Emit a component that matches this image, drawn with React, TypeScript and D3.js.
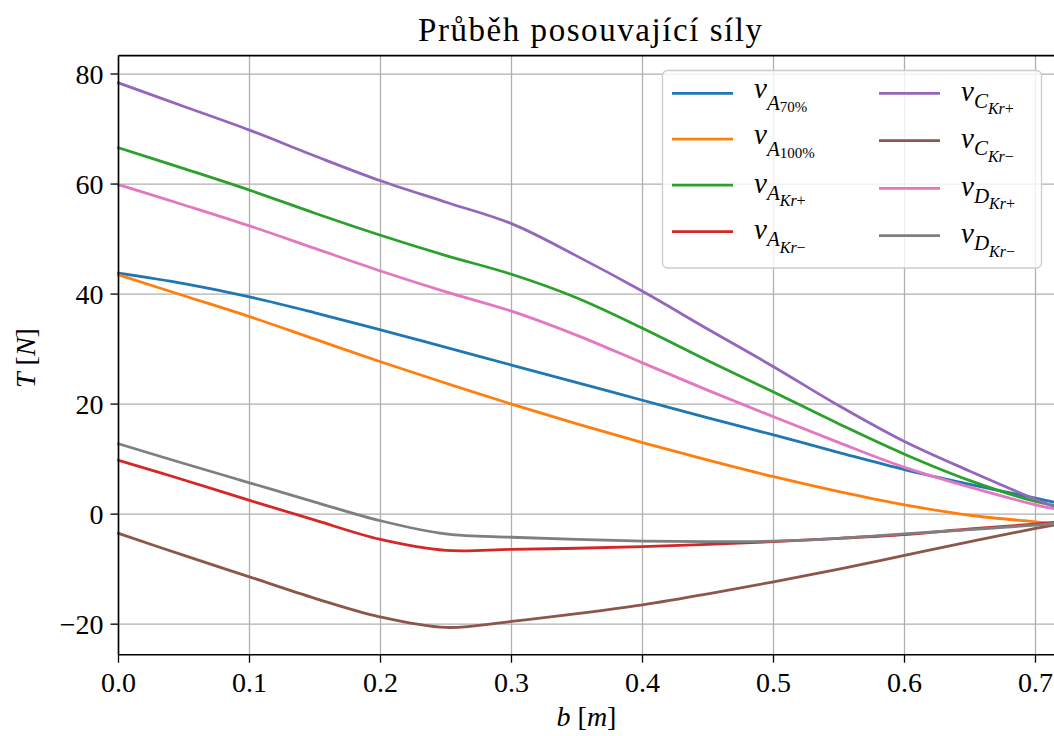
import React from "react";
import * as d3 from "d3";

const bValues = [0, 0.05, 0.1, 0.15, 0.2, 0.25, 0.3, 0.35, 0.4, 0.45, 0.5, 0.55, 0.6, 0.65, 0.7, 0.714];

const vA70 = [43.8, 41.9, 39.5, 36.6, 33.5, 30.3, 27.1, 23.9, 20.7, 17.5, 14.4, 11.2, 8.1, 5.4, 2.9, 2.2];
const vA100 = [43.5, 39.7, 35.9, 31.8, 27.7, 23.8, 20.0, 16.4, 13.0, 9.8, 6.8, 4.1, 1.7, -0.2, -1.4, -1.7];
const vAKrPlus = [66.6, 62.8, 58.9, 54.7, 50.7, 47.0, 43.6, 39.3, 33.8, 27.9, 22.2, 16.4, 10.9, 6.1, 2.3, 1.6];
const vAKrMinus = [9.8, 6.2, 2.5, -1.1, -4.6, -6.6, -6.4, -6.2, -5.9, -5.5, -5.0, -4.4, -3.7, -2.7, -1.8, -1.5];
const vCKrPlus = [78.4, 74.1, 69.8, 65.1, 60.6, 56.7, 52.8, 46.9, 40.5, 33.6, 26.8, 19.7, 13.2, 7.8, 2.7, 1.4];
const vCKrMinus = [-3.5, -7.5, -11.4, -15.3, -18.7, -20.6, -19.5, -18.1, -16.5, -14.5, -12.3, -10.0, -7.5, -5.0, -2.6, -2.0];
const vDKrPlus = [59.9, 56.2, 52.4, 48.3, 44.2, 40.4, 36.9, 32.5, 27.5, 22.5, 17.7, 13.0, 8.5, 4.9, 1.7, 1.0];
const vDKrMinus = [12.8, 9.2, 5.7, 2.2, -1.2, -3.6, -4.2, -4.6, -4.9, -5.0, -4.9, -4.4, -3.6, -2.8, -2.0, -1.7];

const xTicks = [0, 0.1, 0.2, 0.3, 0.4, 0.5, 0.6, 0.7];
const yTicks = [-20, 0, 20, 40, 60, 80];

const seriesLetters = ["A", "A", "A", "A", "C", "C", "D", "D"];
const seriesSubs = ["70%", "100%", "Kr+", "Kr−", "Kr+", "Kr−", "Kr+", "Kr−"];
const seriesColors = ["#1f77b4", "#ff7f0e", "#2ca02c", "#d62728", "#9467bd", "#8c564b", "#e377c2", "#7f7f7f"];
const seriesValues = [vA70, vA100, vAKrPlus, vAKrMinus, vCKrPlus, vCKrMinus, vDKrPlus, vDKrMinus];

const FONT = "'Liberation Serif', 'Times New Roman', serif";

function LegendLabel({ x, y, letter, sub }: { x: number; y: number; letter: string; sub: string }) {
  const isKr = sub.startsWith("Kr");
  if (isKr) {
    return (
      <text x={x} y={y + 7.5} fontFamily={FONT} fill="#000">
        <tspan fontStyle="italic" fontSize={29}>v</tspan>
        <tspan fontStyle="italic" fontSize={21} dy={7}>{letter}</tspan>
        <tspan fontStyle="italic" fontSize={16} dy={6.5}>Kr</tspan>
        <tspan fontSize={16}>{sub.slice(2)}</tspan>
      </text>
    );
  }
  return (
    <text x={x} y={y + 5} fontFamily={FONT} fill="#000">
      <tspan fontStyle="italic" fontSize={29}>v</tspan>
      <tspan fontStyle="italic" fontSize={21} dy={12}>{letter}</tspan>
      <tspan fontSize={15} dy={1.5}>{sub}</tspan>
    </text>
  );
}

export default function App() {
  const W = 1054;
  const H = 736;
  const left = 118.5;
  const right = 1054.5;
  const top = 55.6;
  const bottom = 654.7;

  const x = d3.scaleLinear().domain([0, 0.7145]).range([left, right]);
  const y = d3.scaleLinear().domain([-25.55, 83.35]).range([bottom, top]);

  const line = d3
    .line<number>()
    .x((_, i) => x(bValues[i]))
    .y((d) => y(d))
    .curve(d3.curveCatmullRom.alpha(0.5));

  const legendX = 662.5;
  const legendY = 70.5;
  const col1Y = [93.3, 139.2, 185.2, 231.7];
  const col2Y = [93.3, 140.7, 188.3, 235.7];

  return (
    <svg
      width={W}
      height={H}
      style={{ position: "absolute", left: 0, top: 0, background: "#fff" }}
      xmlns="http://www.w3.org/2000/svg"
    >
      <rect x={0} y={0} width={W} height={H} fill="#fff" />
      <g stroke="#b0b0b0" strokeWidth={1.3}>
        {xTicks.map((t) => (
          <line key={"gx" + t} x1={x(t)} x2={x(t)} y1={top} y2={bottom} />
        ))}
        {yTicks.map((t) => (
          <line key={"gy" + t} x1={left} x2={right} y1={y(t)} y2={y(t)} />
        ))}
      </g>
      <g fill="none" strokeWidth={2.8} strokeLinecap="square" strokeLinejoin="round">
        {seriesValues.map((vals, i) => (
          <path key={"s" + i} d={line(vals) || ""} stroke={seriesColors[i]} />
        ))}
      </g>
      <g stroke="#000" strokeWidth={1.6} fill="none">
        <line x1={left} x2={left} y1={top} y2={bottom} />
        <line x1={left} x2={right + 2} y1={bottom} y2={bottom} />
        <line x1={left} x2={right + 2} y1={top} y2={top} />
      </g>
      <g>
        {xTicks.map((t) => (
          <g key={"xt" + t}>
            <line x1={x(t)} x2={x(t)} y1={bottom} y2={bottom + 8} stroke="#000" strokeWidth={1.3} />
            <text x={x(t)} y={bottom + 37.5} textAnchor="middle" fontFamily={FONT} fontSize={28} fill="#000">
              {d3.format(".1f")(t)}
            </text>
          </g>
        ))}
      </g>
      <g>
        {yTicks.map((t) => (
          <g key={"yt" + t}>
            <line x1={left - 8} x2={left} y1={y(t)} y2={y(t)} stroke="#000" strokeWidth={1.3} />
            <text x={left - 15} y={y(t) + 9.5} textAnchor="end" fontFamily={FONT} fontSize={28} fill="#000">
              {t < 0 ? "\u2212" + Math.abs(t) : String(t)}
            </text>
          </g>
        ))}
      </g>
      <text x={(left + right) / 2} y={726} textAnchor="middle" fontFamily={FONT} fontSize={28} fill="#000">
        <tspan fontStyle="italic">b</tspan>
        <tspan> [</tspan>
        <tspan fontStyle="italic">m</tspan>
        <tspan>]</tspan>
      </text>
      <text
        transform={`translate(35, 358) rotate(-90)`}
        textAnchor="middle"
        fontFamily={FONT}
        fontSize={28}
        fill="#000"
      >
        <tspan fontStyle="italic">T</tspan>
        <tspan> [</tspan>
        <tspan fontStyle="italic">N</tspan>
        <tspan>]</tspan>
      </text>
      <text
        x={590}
        y={41}
        textAnchor="middle"
        fontFamily={FONT}
        fontSize={33}
        textLength={344}
        lengthAdjust="spacing"
        fill="#000"
      >
        Průběh posouvající síly
      </text>
      <rect
        x={legendX}
        y={legendY}
        width={379}
        height={197.5}
        rx={5}
        ry={5}
        fill="#fff"
        fillOpacity={0.8}
        stroke="#cccccc"
        strokeWidth={1.3}
      />
      {seriesValues.map((_, i) => {
        const col = i < 4 ? 0 : 1;
        const row = i % 4;
        const ly = col === 0 ? col1Y[row] : col2Y[row];
        const lx = col === 0 ? 672 : 879;
        const tx = col === 0 ? 754 : 961;
        return (
          <g key={"lg" + i}>
            <line x1={lx} x2={lx + 61} y1={ly} y2={ly} stroke={seriesColors[i]} strokeWidth={2.8} />
            <LegendLabel x={tx} y={ly} letter={seriesLetters[i]} sub={seriesSubs[i]} />
          </g>
        );
      })}
    </svg>
  );
}
